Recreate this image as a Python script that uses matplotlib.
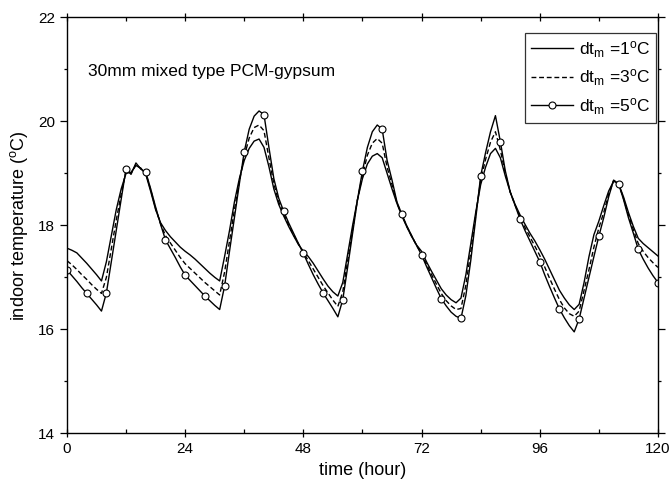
import matplotlib
matplotlib.use("Agg")
import matplotlib.pyplot as plt
from matplotlib.ticker import MultipleLocator
import numpy as np

plt.rcParams['font.family'] = ['Liberation Sans', 'DejaVu Sans']
plt.rcParams['mathtext.fontset'] = 'custom'
plt.rcParams['mathtext.rm'] = 'Liberation Sans'
plt.rcParams['mathtext.it'] = 'Liberation Sans:italic'

# time in hours (hourly samples)
hours = list(range(0, 121))

dt1 = [17.56, 17.52, 17.47, 17.37, 17.27, 17.16, 17.05, 16.93, 17.30, 17.80, 18.30, 18.70, 19.00, 19.02, 19.15, 19.10, 18.98, 18.65, 18.30, 18.05, 17.90, 17.78, 17.68, 17.58,
       17.50, 17.43, 17.35, 17.26, 17.17, 17.08, 17.00, 16.93, 17.40, 17.90, 18.45, 18.90, 19.25, 19.48, 19.62, 19.66, 19.50, 19.13, 18.70, 18.40, 18.18, 17.98, 17.80, 17.63,
       17.50, 17.40, 17.27, 17.12, 16.97, 16.83, 16.72, 16.64, 16.90, 17.45, 18.00, 18.50, 18.90, 19.18, 19.33, 19.38, 19.30, 19.00, 18.70, 18.42, 18.18, 17.97, 17.78, 17.62,
       17.50, 17.30, 17.12, 16.95, 16.78, 16.66, 16.57, 16.51, 16.60, 17.05, 17.65, 18.25, 18.78, 19.12, 19.38, 19.48, 19.30, 18.95, 18.64, 18.40, 18.20, 18.02, 17.85, 17.70,
       17.53, 17.35, 17.15, 16.95, 16.75, 16.60, 16.47, 16.38, 16.48, 16.90, 17.40, 17.82, 18.08, 18.38, 18.66, 18.85, 18.80, 18.55, 18.25, 17.98, 17.75, 17.65, 17.57, 17.49, 17.41]

dt3 = [17.32, 17.24, 17.15, 17.05, 16.96, 16.86, 16.77, 16.69, 17.00, 17.55, 18.10, 18.60, 19.05, 19.00, 19.17, 19.09, 19.00, 18.68, 18.32, 18.03, 17.80, 17.66, 17.52, 17.38,
       17.26, 17.17, 17.08, 16.99, 16.90, 16.82, 16.74, 16.66, 17.10, 17.70, 18.30, 18.85, 19.33, 19.68, 19.88, 19.93, 19.82, 19.30, 18.80, 18.45, 18.22, 18.01, 17.82, 17.64,
       17.48, 17.32, 17.16, 17.00, 16.84, 16.70, 16.56, 16.44, 16.72, 17.32, 17.92, 18.50, 18.97, 19.35, 19.58, 19.67, 19.58, 19.12, 18.78, 18.43, 18.20, 17.98, 17.79, 17.61,
       17.46, 17.25, 17.06, 16.87, 16.69, 16.55, 16.45, 16.38, 16.40, 16.85, 17.50, 18.20, 18.87, 19.27, 19.60, 19.80, 19.45, 19.00, 18.64, 18.39, 18.16, 17.96, 17.78, 17.60,
       17.42, 17.20, 16.98, 16.77, 16.57, 16.41, 16.30, 16.25, 16.35, 16.75, 17.15, 17.58, 17.95, 18.25, 18.60, 18.86, 18.80, 18.52, 18.20, 17.92, 17.65, 17.50, 17.38, 17.28, 17.19]

dt5 = [17.14, 17.03, 16.92, 16.80, 16.69, 16.58, 16.47, 16.35, 16.70, 17.30, 17.90, 18.50, 19.09, 18.98, 19.20, 19.08, 19.02, 18.70, 18.35, 18.02, 17.72, 17.55, 17.38, 17.20,
       17.04, 16.94, 16.84, 16.74, 16.64, 16.55, 16.46, 16.38, 16.83, 17.50, 18.15, 18.80, 19.42, 19.85, 20.10, 20.20, 20.13, 19.50, 18.90, 18.52, 18.27, 18.05, 17.85, 17.65,
       17.46, 17.25, 17.05, 16.87, 16.70, 16.55, 16.40, 16.24, 16.57, 17.20, 17.85, 18.50, 19.05, 19.50, 19.80, 19.93, 19.85, 19.25, 18.87, 18.45, 18.21, 17.99, 17.80, 17.61,
       17.43, 17.21, 17.00, 16.79, 16.59, 16.45, 16.33, 16.25, 16.21, 16.65, 17.33, 18.13, 18.95, 19.40, 19.80, 20.11, 19.61, 19.05, 18.64, 18.38, 18.12, 17.90, 17.70, 17.50,
       17.30, 17.05, 16.82, 16.60, 16.39, 16.22, 16.07, 15.95, 16.20, 16.60, 17.00, 17.40, 17.79, 18.15, 18.55, 18.87, 18.80, 18.50, 18.15, 17.85, 17.54, 17.35, 17.18, 17.03, 16.90]

labels = [r'dt$_\mathrm{m}$ =1$^\mathrm{o}$C', r'dt$_\mathrm{m}$ =3$^\mathrm{o}$C', r'dt$_\mathrm{m}$ =5$^\mathrm{o}$C']
xticks = [0, 24, 48, 72, 96, 120]
yticks = [14, 16, 18, 20, 22]

fig = plt.figure(figsize=(6.7, 4.83), dpi=100)
ax = fig.add_axes([0.1, 0.103, 0.882, 0.861])

lw = 1.0
ax.plot(hours, dt1, color='black', lw=lw, label=labels[0])
ax.plot(hours, dt3, color='black', lw=lw, ls=(0, (3.5, 2)), label=labels[1])
ax.plot(hours, dt5, color='black', lw=lw, marker='o', markevery=4, markersize=5,
        markerfacecolor='white', markeredgecolor='black', markeredgewidth=0.8, label=labels[2])

ax.set_xlim(0, 120)
ax.set_ylim(14, 22)
ax.set_xticks(xticks)
ax.set_yticks(yticks)
ax.xaxis.set_minor_locator(MultipleLocator(12))
ax.yaxis.set_minor_locator(MultipleLocator(1))
ax.tick_params(axis='x', which='major', direction='inout', length=6, width=0.9, labelsize=11, top=True)
ax.tick_params(axis='x', which='minor', direction='in', length=3, width=0.9, top=True)
ax.tick_params(axis='y', which='major', direction='out', length=5, width=0.9, labelsize=11, right=True)
ax.tick_params(axis='y', which='minor', direction='out', length=2.5, width=0.9, right=True)
for sp in ax.spines.values():
    sp.set_linewidth(1.0)

ax.set_xlabel('time (hour)', fontsize=13, labelpad=4)
ax.set_ylabel(r'indoor temperature ($^\mathrm{o}$C)', fontsize=13, labelpad=6)

ax.text(0.036, 0.869, '30mm mixed type PCM-gypsum', transform=ax.transAxes,
        fontsize=12.5, va='center', ha='left')

leg = ax.legend(loc='upper right', bbox_to_anchor=(0.997, 0.963), borderaxespad=0,
                fontsize=12.5, frameon=True, fancybox=False, edgecolor='black',
                handlelength=2.4, labelspacing=0.45, borderpad=0.35, handletextpad=0.35)
leg.get_frame().set_linewidth(0.9)

fig.savefig('out.png', dpi=100)
